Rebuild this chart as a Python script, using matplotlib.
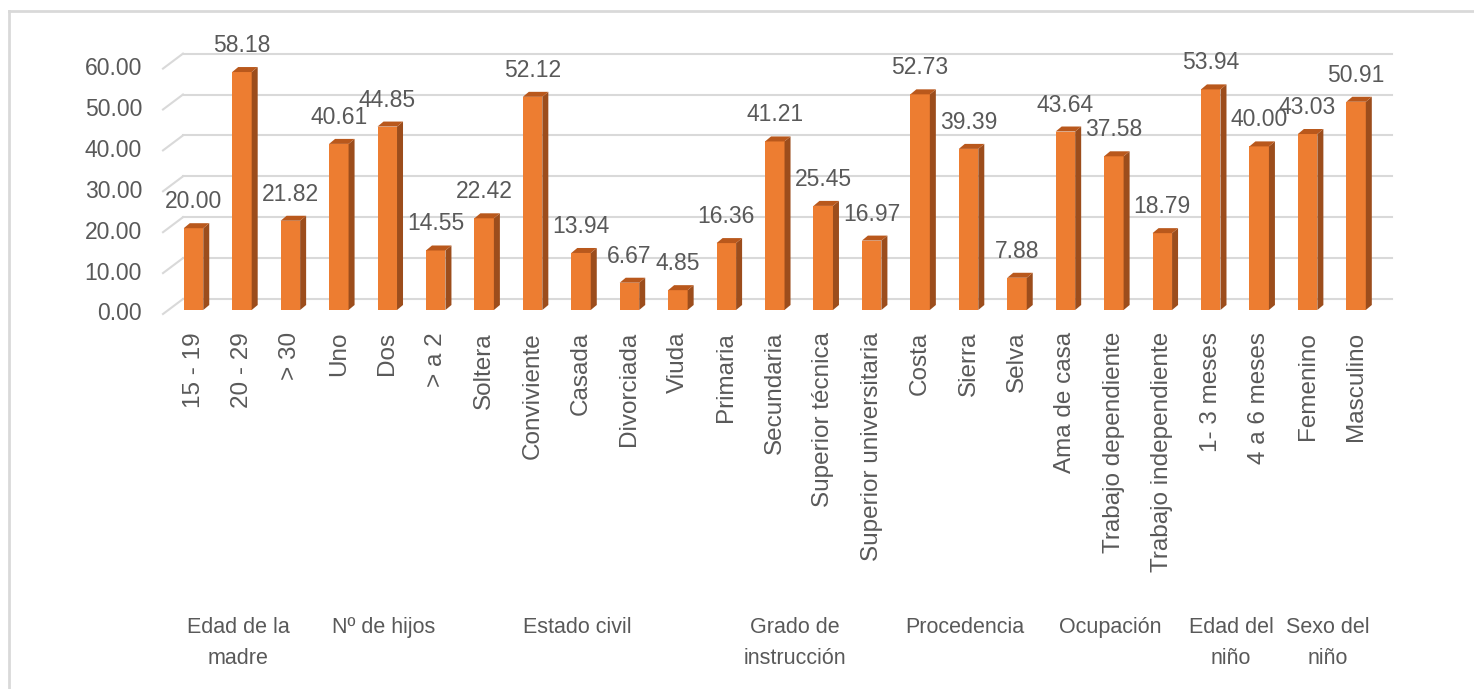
import numpy as np
import matplotlib
matplotlib.use("Agg")
import matplotlib.pyplot as plt
from matplotlib import transforms
from matplotlib.patches import Polygon
from matplotlib.lines import Line2D

# ---- data ----
categories = ["15 - 19", "20 - 29", "> 30",
              "Uno", "Dos", "> a 2",
              "Soltera", "Conviviente", "Casada", "Divorciada", "Viuda",
              "Primaria", "Secundaria", "Superior técnica", "Superior universitaria",
              "Costa", "Sierra", "Selva",
              "Ama de casa", "Trabajo dependiente", "Trabajo independiente",
              "1- 3 meses", "4 a 6 meses",
              "Femenino", "Masculino"]
values = [20.00, 58.18, 21.82,
          40.61, 44.85, 14.55,
          22.42, 52.12, 13.94, 6.67, 4.85,
          16.36, 41.21, 25.45, 16.97,
          52.73, 39.39, 7.88,
          43.64, 37.58, 18.79,
          53.94, 40.00,
          43.03, 50.91]
group_names = ["Edad de la\nmadre", "Nº de hijos", "Estado civil", "Grado de\ninstrucción",
               "Procedencia", "Ocupación", "Edad del\nniño", "Sexo del\nniño"]
group_sizes = [3, 3, 5, 4, 3, 3, 2, 2]
yticks = [0, 10, 20, 30, 40, 50, 60]

# ---- style ----
W, H = 1474, 689
FONT = "Liberation Sans"
TXT = "#595959"
FRONT = "#ED7D31"
SIDE = "#9C4D1C"
TOP = "#B9581C"
GRID = "#D9D9D9"

fig = plt.figure(figsize=(W / 100, H / 100), dpi=100)
fig.patch.set_facecolor("white")

# axes in pixel layout
left_px, right_px = 183, 1392
base_px, top_px = 310, 64.6
ax = fig.add_axes([left_px / W, (H - base_px) / H, (right_px - left_px) / W, (base_px - top_px) / H])
step_px = 48.44
x0_px = 193.5
x = np.arange(len(values))
ax.set_xlim((left_px - x0_px) / step_px, (right_px - x0_px) / step_px)
ax.set_ylim(0, 60)
for s in ax.spines.values():
    s.set_visible(False)
ax.patch.set_visible(False)

px_per_y = (base_px - top_px) / 60.0
bar_w = 19.5 / step_px
dx = 6.0 / step_px
dy = 5.0 / px_per_y

# back-plane gridlines with the left diagonal
ytr = ax.get_yaxis_transform()
back = transforms.offset_copy(ytr, fig=fig, x=0, y=11, units="dots")
for v in yticks:
    ax.plot([0, 1], [v, v], transform=back, color=GRID, lw=1.5, zorder=0, clip_on=False)
    p0 = back.transform((0, v))
    p1 = p0 + np.array([-20, -15])
    fig.add_artist(Line2D([p1[0] / W, p0[0] / W], [p1[1] / H, p0[1] / H], color=GRID, lw=1.5, zorder=0))
    lab = transforms.offset_copy(ytr, fig=fig, x=-41, y=-4, units="dots")
    ax.text(0, v, f"{v:.2f}", transform=lab, ha="right", va="center",
            fontsize=16.5, family=FONT, color=TXT)

# 3D-ish bars
bars = ax.bar(x, values, width=bar_w, color=FRONT, zorder=3, clip_on=False, linewidth=0)
for xi, v in zip(x, values):
    r = xi + bar_w / 2
    l = xi - bar_w / 2
    ax.add_patch(Polygon([(r, 0), (r + dx, dy), (r + dx, v + dy), (r, v)], closed=True,
                         facecolor=SIDE, edgecolor="none", zorder=3, clip_on=False))
    ax.add_patch(Polygon([(l, v), (r, v), (r + dx, v + dy), (l + dx, v + dy)], closed=True,
                         facecolor=TOP, edgecolor="none", zorder=3, clip_on=False))
    ax.annotate(f"{v:.2f}", (xi, v), xytext=(0, 20), textcoords="offset pixels",
                ha="center", va="baseline", fontsize=16.5, family=FONT, color=TXT,
                annotation_clip=False)

# category labels
ax.set_yticks([])
ax.set_xticks(x)
ax.set_xticklabels(categories, rotation=90, fontsize=17.5, family=FONT, color=TXT)
ax.tick_params(axis="x", length=0, pad=15.8)

# group labels
gtr = transforms.blended_transform_factory(ax.transData, fig.transFigure)
start = 0
for name, n in zip(group_names, group_sizes):
    c = start + (n - 1) / 2.0 - 0.08
    ax.text(c, 1 - 617 / H, name, transform=gtr, ha="center", va="top",
            multialignment="center", linespacing=1.62,
            fontsize=15.5, family=FONT, color=TXT)
    start += n

# outer frame (cut off at right/bottom)
fig.add_artist(Line2D([9 / W, 9 / W], [0, 1 - 11 / H], color=GRID, lw=2))
fig.add_artist(Line2D([9 / W, 1], [1 - 11 / H, 1 - 11 / H], color=GRID, lw=2))

fig.savefig("out.png", dpi=100, facecolor="white")
